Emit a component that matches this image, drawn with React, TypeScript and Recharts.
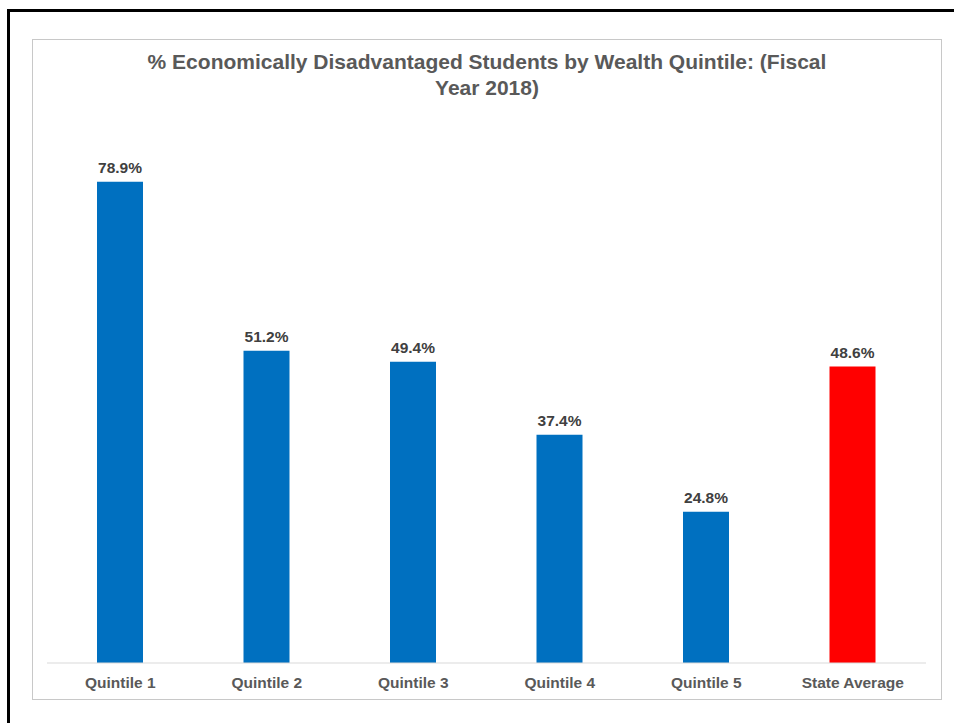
import React from "react";
import { BarChart, Bar, XAxis, YAxis, Cell, LabelList } from "recharts";

const categories = ["Quintile 1", "Quintile 2", "Quintile 3", "Quintile 4", "Quintile 5", "State Average"];
const values = [78.9, 51.2, 49.4, 37.4, 24.8, 48.6];
const barColors = ["#0070C0", "#0070C0", "#0070C0", "#0070C0", "#0070C0", "#FF0000"];
const titleLines = ["% Economically Disadvantaged Students by Wealth Quintile: (Fiscal", "Year 2018)"];

const data = categories.map((name, i) => ({ name, value: values[i] }));

const FONT = "'Liberation Sans', Arial, sans-serif";

export default function App() {
  return (
    <div style={{ position: "fixed", left: 0, top: 0, width: 954, height: 723, overflow: "hidden", background: "#fff", fontFamily: FONT }}>
      <div style={{ position: "absolute", left: 7, top: 9, width: 1000, height: 800, borderTop: "3px solid #000", borderLeft: "3px solid #000", boxSizing: "border-box" }} />
      <div style={{ position: "absolute", left: 32, top: 39, width: 910, height: 661, border: "1px solid #c8c8c8", boxSizing: "border-box" }} />
      <div style={{ position: "absolute", left: 32, top: 49, width: 910, textAlign: "center", color: "#595959", fontWeight: "bold", fontSize: 21, lineHeight: "26px" }}>
        {titleLines.map((l, i) => (
          <div key={i}>{l}</div>
        ))}
      </div>
      <div style={{ position: "absolute", left: 0, top: 0 }}>
        <BarChart width={954} height={723} data={data} margin={{ top: 114, right: 28, bottom: 30, left: 47 }}>
          <YAxis hide domain={[0, 90]} />
          <XAxis
            dataKey="name"
            height={30}
            axisLine={{ stroke: "#d9d9d9", strokeWidth: 1 }}
            tickLine={false}
            tickSize={6}
            tickMargin={8}
            interval={0}
            tick={{ fill: "#595959", fontSize: 15.5, fontWeight: "bold", fontFamily: FONT }}
          />
          <Bar dataKey="value" barSize={46} isAnimationActive={false}>
            {data.map((d, i) => (
              <Cell key={d.name} fill={barColors[i]} />
            ))}
            <LabelList
              dataKey="value"
              position="top"
              offset={9}
              formatter={(v: number) => `${v.toFixed(1)}%`}
              style={{ fill: "#404040", fontSize: 15.5, fontWeight: "bold", fontFamily: FONT }}
            />
          </Bar>
        </BarChart>
      </div>
    </div>
  );
}
